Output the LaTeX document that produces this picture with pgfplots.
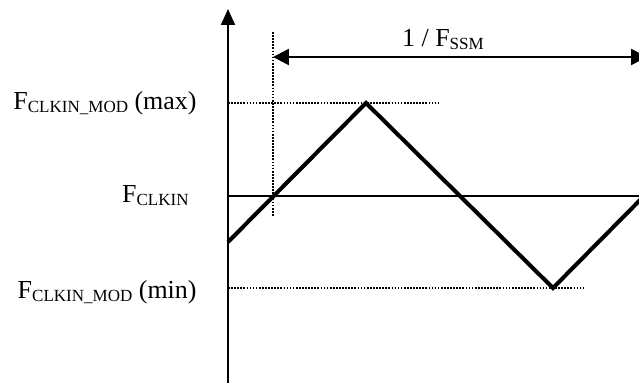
\documentclass[border=0pt]{standalone}
\usepackage{fontspec}
\setmainfont{Liberation Serif}
\usepackage{pgfplots}
\pgfplotsset{compat=1.18}
\usetikzlibrary{arrows.meta}

% 1 px of the reference = 0.47pt
\newcommand{\sub}[1]{\raisebox{-1.5pt}{\fontsize{8}{9}\selectfont #1}}
\tikzset{lbl/.style={font=\fontsize{12.2}{14}\selectfont, inner sep=0pt}}

\begin{document}
\begin{tikzpicture}
\begin{axis}[
  width=300.33pt, height=180.01pt, scale only axis,
  xmin=0, xmax=639, ymin=0, ymax=383,
  hide axis, clip=true,
  dotline/.style={black, line width=1.05pt, dash pattern=on 0.8pt off 0.65pt},
]
% dotted guide lines
\addplot[dotline] coordinates {(228,280) (438,280)};
\addplot[dotline] coordinates {(228,95) (585,95)};
\addplot[dotline] coordinates {(273,351) (273,167)};
% vertical axis
\addplot[black, line width=0.7pt, -{Triangle[length=7.5pt, width=6.6pt]}] coordinates {(228,270) (228,374)};
\addplot[black, line width=1.4pt] coordinates {(228,0) (228,270)};
% nominal clock level
\addplot[black, line width=1pt] coordinates {(228,187) (645,187)};
% modulated clock
\addplot[black, line width=1.9pt, line join=miter] coordinates {(228,141) (366,280) (553,95) (645,188)};
% period arrow
\addplot[black, line width=1.2pt, {Triangle[length=7.5pt, width=7.5pt]}-{Triangle[length=7.5pt, width=7.5pt]}] coordinates {(273,326) (647,326)};
% labels
\node[lbl, anchor=base east] at (axis cs:197,274) {F\sub{CLKIN\_MOD} (max)};
\node[lbl, anchor=base east] at (axis cs:189,181) {F\sub{CLKIN}};
\node[lbl, anchor=base east] at (axis cs:197,85) {F\sub{CLKIN\_MOD} (min)};
\node[lbl, anchor=base west] at (axis cs:401.7,336.3) {1 / F\sub{SSM}};
\end{axis}
\pgfresetboundingbox
\path (current axis.south west) rectangle (current axis.north east);
\end{tikzpicture}
\end{document}
